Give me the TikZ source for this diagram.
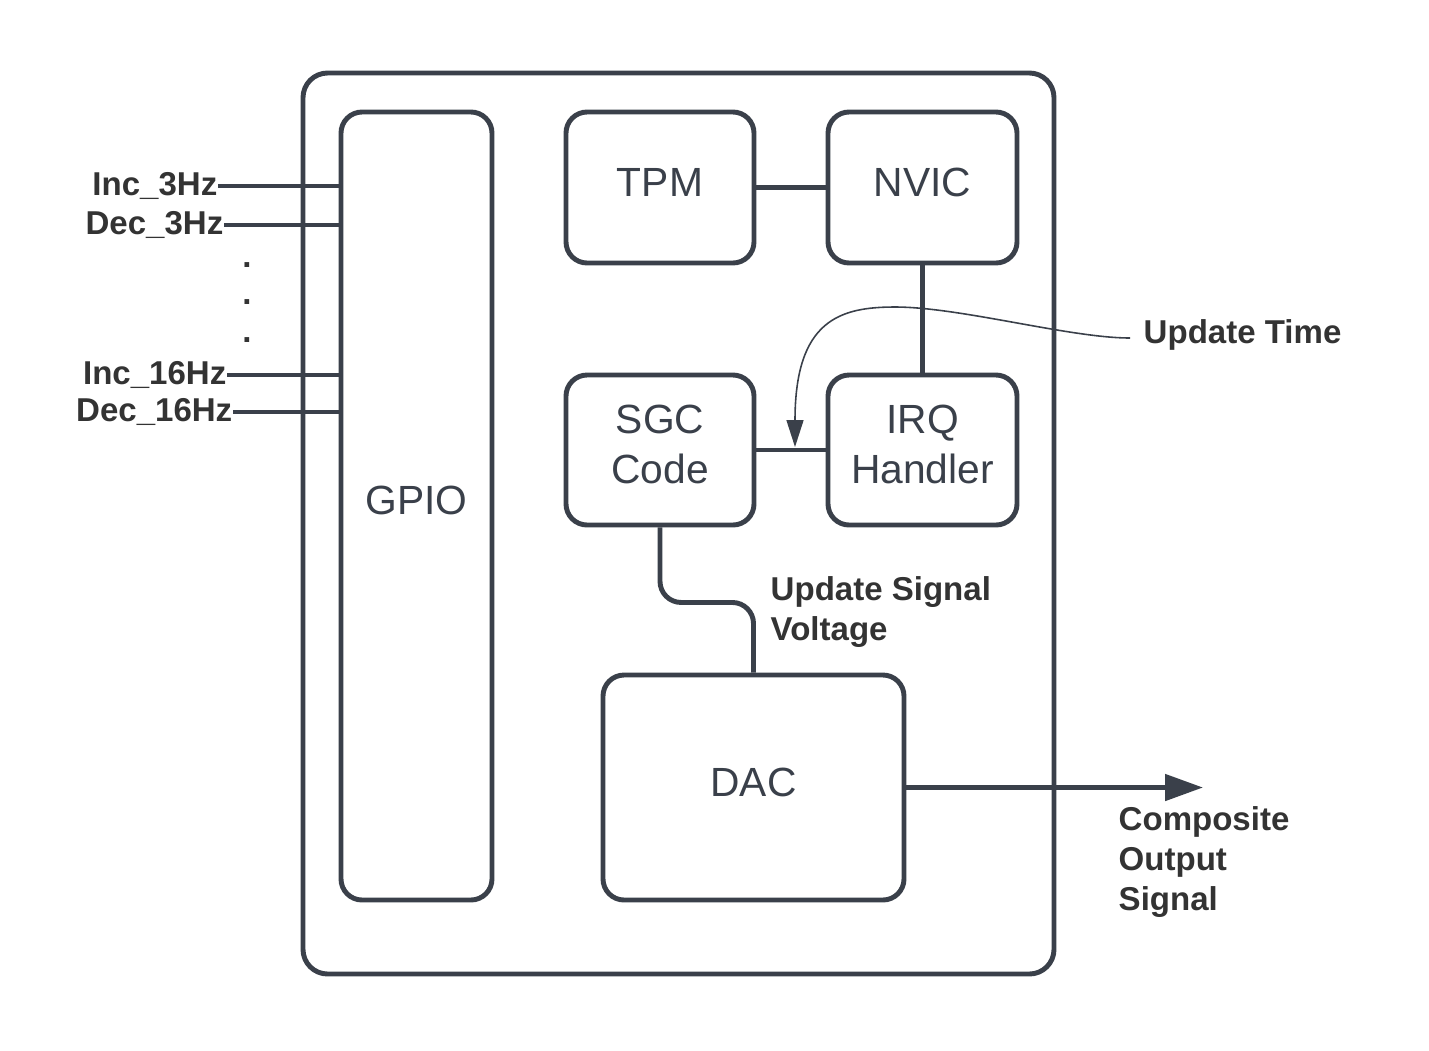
\documentclass[tikz,border=0pt]{standalone}
\usepackage{fontspec}
\setmainfont{Liberation Sans}
\usetikzlibrary{arrows.meta}
\definecolor{ink}{RGB}{58,64,74}
\definecolor{txt}{RGB}{51,51,51}
\tikzset{
	blk/.style = {draw = ink, line width = 1.4pt, rounded corners = 6pt, align = center, text = ink, text depth = 0.11cm, font = \fontsize{11.6}{14.2}\selectfont},
	wire/.style = {draw = ink, line width = 1.4pt},
	lbl/.style = {text = txt, inner sep = 0pt, font = \bfseries\fontsize{9.4}{11.4}\selectfont}
}
\begin{document}
\begin{tikzpicture}
	\useasboundingbox (0,0) rectangle (14.29,-10.5);
	\draw[wire, rounded corners = 7pt] (3.03,-0.73) rectangle (10.54,-9.74);
	\node[blk, minimum width = 1.51cm, minimum height = 7.88cm] (gpio) at (4.165,-5.06) {GPIO};
	\node[blk, minimum width = 1.88cm, minimum height = 1.51cm] (tpm) at (6.6,-1.875) {TPM};
	\node[blk, minimum width = 1.89cm, minimum height = 1.51cm] (nvic) at (9.225,-1.875) {NVIC};
	\node[blk, minimum width = 1.88cm, minimum height = 1.5cm] (sgc) at (6.6,-4.5) {SGC\\Code};
	\node[blk, minimum width = 1.89cm, minimum height = 1.5cm] (irq) at (9.225,-4.5) {IRQ\\Handler};
	\node[blk, minimum width = 3.01cm, minimum height = 2.25cm] (dac) at (7.535,-7.875) {DAC};
	\draw[wire] (tpm.east) -- (nvic.west);
	\draw[wire] (nvic.south) -- (irq.north);
	\draw[wire] (sgc.east) -- (irq.west);
	\draw[wire, rounded corners = 6pt] (sgc.south) -- ++(0,-0.75) -| (dac.north);
	\coordinate (out) at (12.03,-7.875);
	\draw[wire, -{Triangle[length = 0.38cm, width = 0.26cm]}] (dac.east) -- (out);
	\node[lbl, anchor = east] (inc3) at (2.18,-1.86) {Inc\_3Hz};
	\node[lbl, anchor = east] (dec3) at (2.24,-2.25) {Dec\_3Hz};
	\node[lbl, anchor = east] (inc16) at (2.27,-3.75) {Inc\_16Hz};
	\node[lbl, anchor = east] (dec16) at (2.33,-4.12) {Dec\_16Hz};
	\draw[wire] (inc3.east) -- (inc3.east -| gpio.west);
	\draw[wire] (dec3.east) -- (dec3.east -| gpio.west);
	\draw[wire] (inc16.east) -- (inc16.east -| gpio.west);
	\draw[wire] (dec16.east) -- (dec16.east -| gpio.west);
	\foreach \y/\n in {2.67/1, 3.04/2, 3.42/3}
		\node[lbl, anchor = base] (dot\n) at (2.47,-\y) {.};
	\node[lbl, anchor = west] (utime) at (11.43,-3.35) {Update Time};
	\coordinate (tip) at (7.95,-4.47);
	\draw[ink, line width = 0.45pt, -{Triangle[length = 0.27cm, width = 0.17cm]}] ([xshift = -0.13cm, yshift = -0.03cm]utime.west) .. controls (10.7,-3.38) and (9.6,-3.07) .. (8.95,-3.07) .. controls (8.4,-3.07) and (7.95,-3.2) .. (tip);
	\node[lbl, anchor = west, align = left] (usv) at (7.70,-6.12) {Update Signal\\Voltage};
	\node[lbl, anchor = west, align = left] (cos) at (11.18,-8.62) {Composite\\Output\\Signal};
\end{tikzpicture}
\end{document}
